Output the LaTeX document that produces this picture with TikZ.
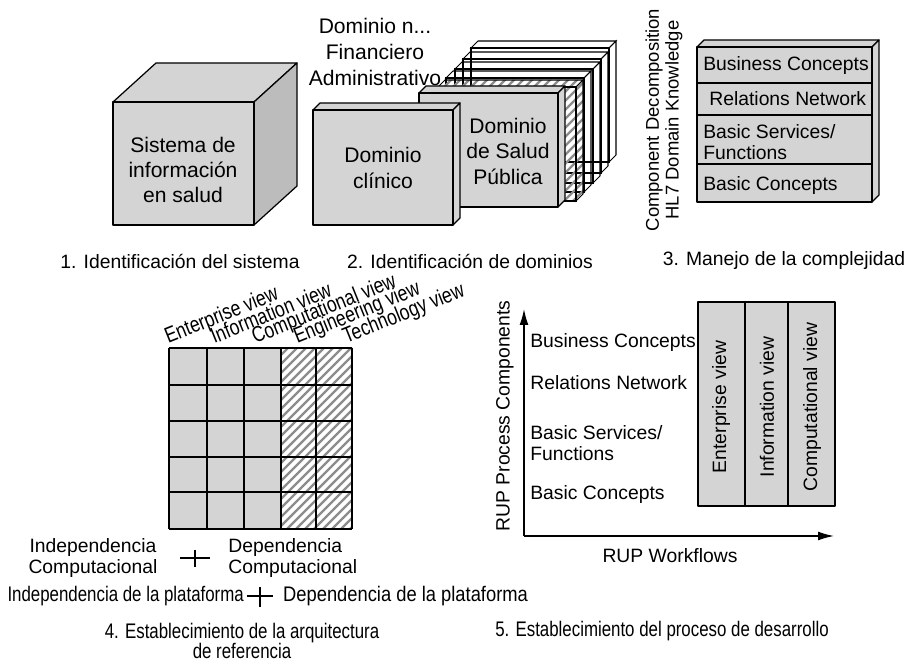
\documentclass[tikz,border=0pt]{standalone}
\usepackage{fontspec}
\setmainfont{Liberation Sans}
\usepackage{graphicx}
\usepackage{tikz}
\usetikzlibrary{arrows.meta, positioning}

\definecolor{boxgray}{HTML}{D4D4D4}
\definecolor{sidegray}{HTML}{BCBCBC}
\definecolor{hatchgray}{HTML}{8C8C8C}

% condensed text
\newcommand{\narrow}[2][0.8]{\scalebox{#1}[1]{#2}}
% slab: front/top style, side style, x, y, width, height, dx, dy
\newcommand{\slabbox}[8]{%
    \draw[#1] (#3,#4) -- ++(#7,-#8) -- ++(#5,0) -- ++(-#7,#8) -- cycle;
    \draw[#2] (#3+#5,#4) -- ++(#7,-#8) -- ++(0,#6) -- ++(-#7,#8) -- cycle;
    \draw[#1] (#3,#4) rectangle ++(#5,#6);
}

\tikzset{
    face/.style={
        draw=black,
        line width=0.7pt,
        fill=boxgray,
        line join=round
    },
    side/.style={
        draw=black,
        line width=0.7pt,
        fill=sidegray,
        line join=round
    },
    wire/.style={
        draw=black,
        line width=0.6pt
    },
    hatchline/.style={
        draw=hatchgray,
        line width=1.4pt
    },
    boxtext/.style={
        align=center,
        inner sep=0pt,
        font=\fontsize{12}{14.5}\selectfont
    },
    txt/.style={
        align=left,
        inner sep=0pt,
        font=\fontsize{11}{11.6}\selectfont
    },
    caption/.style={
        inner sep=0pt,
        font=\fontsize{11}{13}\selectfont
    },
    narrowtxt/.style={
        align=center,
        inner sep=0pt,
        font=\fontsize{12}{12}\selectfont
    },
    viewtxt/.style={
        inner sep=0pt,
        rotate=22,
        anchor=base west,
        font=\fontsize{12.5}{14}\selectfont
    },
    gridline/.style={
        line width=0.9pt
    },
    plusmark/.style={
        line width=1.3pt
    },
    axis/.style={
        line width=0.8pt,
        -{Latex[length=9pt, width=5pt]}
    },
}

\begin{document}
\begin{tikzpicture}[x=0.02cm, y=-0.02cm]
\useasboundingbox (0,0) rectangle (904,662);

% 1. Sistema
\slabbox{face}{side}{113}{102}{141}{123}{43}{39}
\node[boxtext, font=\fontsize{12}{14.2}\selectfont] (sistema) at (183,170) {Sistema de\\información\\en salud};
\node[caption] (cap1) at (180,261) {1. Identificación del sistema};

% 2. Dominios
\foreach \x/\y in {471/48, 463/59, 455/69, 446/78} {
    \slabbox{wire}{wire}{\x}{\y}{138}{114}{7}{7}
}
\begin{scope}
    \clip (438,87) -- (445,80) -- (583,80) -- (583,194) -- (576,201) -- (438,201) -- cycle;
    \foreach \x in {240,249,...,590} {
        \draw[hatchline] (\x,210) -- ++(140,-140);
    }
\end{scope}
\slabbox{wire}{wire}{438}{87}{138}{114}{7}{7}
\slabbox{face}{face}{419}{93}{139}{114}{7}{7}
\slabbox{face}{face}{313}{110}{140}{115}{7}{7}
\node[boxtext, font=\fontsize{12}{15}\selectfont] (otros) at (375,52) {Dominio n...\\Financiero\\Administrativo};
\node[boxtext] (clinico) at (383,168) {Dominio\\clínico};
\node[boxtext] (salud) at (508,151) {Dominio\\de Salud\\Pública};
\node[caption] (cap2) at (470,261) {2. Identificación de dominios};

% 3. Complejidad
\node[rotate=90, align=center, inner sep=0pt, font=\fontsize{10.5}{11.3}\selectfont] (hl7) at (664,120) {Component Decomposition\\HL7 Domain Knowledge};
\slabbox{face}{face}{697}{47}{175}{155}{7}{7}
\foreach \y in {83, 115, 164} {
    \draw[line width=0.7pt] (697,\y) -- (872,\y);
}
\node[txt, anchor=west] (bc3) at (703,66) {Business Concepts};
\node[txt, anchor=west] (rn3) at (709,99) {Relations Network};
\node[txt, anchor=west] (bs3) at (703,142) {Basic Services/\\Functions};
\node[txt, anchor=west] (bb3) at (703,186) {Basic Concepts};
\node[caption] (cap3) at (784,261) {3. Manejo de la complejidad};

% 4. Arquitectura
\fill[boxgray] (169,348) rectangle (281,529);
\begin{scope}
    \clip (281,348) rectangle (352,529);
    \foreach \x in {92,101,...,360} {
        \draw[hatchline] (\x,535) -- ++(195,-195);
    }
\end{scope}
\foreach \x in {169, 207, 244, 281, 316, 352} {
    \draw[gridline] (\x,348) -- (\x,529);
}
\foreach \y in {348, 385, 421, 457, 492, 529} {
    \draw[gridline] (169,\y) -- (352,\y);
}
\foreach \x/\t [count=\i] in {168/Enterprise view, 214/Information view, 255/Computational view, 297/Engineering view, 346/Technology view} {
    \node[viewtxt] (view\i) at (\x,344) {\narrow{\t}};
}
\node[txt, align=center] (indcomp) at (93,558) {Independencia\\Computacional};
\draw[plusmark] (180,558) -- (210,558) (195,550) -- (195,567);
\node[txt, anchor=west] (depcomp) at (228,558) {Dependencia\\Computacional};
\coordinate (plusB) at (260,596);
\draw[plusmark] (247,596) -- (273,596) (260,587) -- (260,607);
\node[narrowtxt, left=9pt of plusB] (indplat) {\narrow{Independencia de la plataforma}};
\node[narrowtxt, right=13pt of plusB] (depplat) {\narrow[0.87]{Dependencia de la plataforma}};
\node[narrowtxt, font=\fontsize{12}{11.4}\selectfont] (cap4) at (242,641) {\narrow{4. Establecimiento de la arquitectura}\\\narrow{de referencia}};

% 5. Proceso
\coordinate (origin) at (524,536);
\coordinate (ytip) at (524,309);
\coordinate (xtip) at (834,536);
\draw[axis] (origin) -- (ytip);
\draw[axis] (origin) -- (xtip);
\node[rotate=90, inner sep=0pt, font=\fontsize{11}{13}\selectfont] (rupcomp) at (505,416) {RUP Process Components};
\node[caption] (rupflow) at (670,556) {RUP Workflows};
\node[txt, anchor=west] (bc5) at (530,343) {Business Concepts};
\node[txt, anchor=west] (rn5) at (530,383) {Relations Network};
\node[txt, anchor=west] (bs5) at (530,443) {Basic Services/\\Functions};
\node[txt, anchor=west] (bb5) at (530,495) {Basic Concepts};
\draw[face] (698,302) rectangle (835,506);
\draw[line width=0.7pt] (745,302) -- (745,506) (788,302) -- (788,506);
\foreach \x/\t [count=\i] in {721/Enterprise view, 767/Information view, 812/Computational view} {
    \node[rotate=90, inner sep=0pt, font=\fontsize{11}{13}\selectfont] (rview\i) at (\x,407) {\t};
}
\node[narrowtxt] (cap5) at (662,631) {\narrow{5. Establecimiento del proceso de desarrollo}};

\end{tikzpicture}
\end{document}
